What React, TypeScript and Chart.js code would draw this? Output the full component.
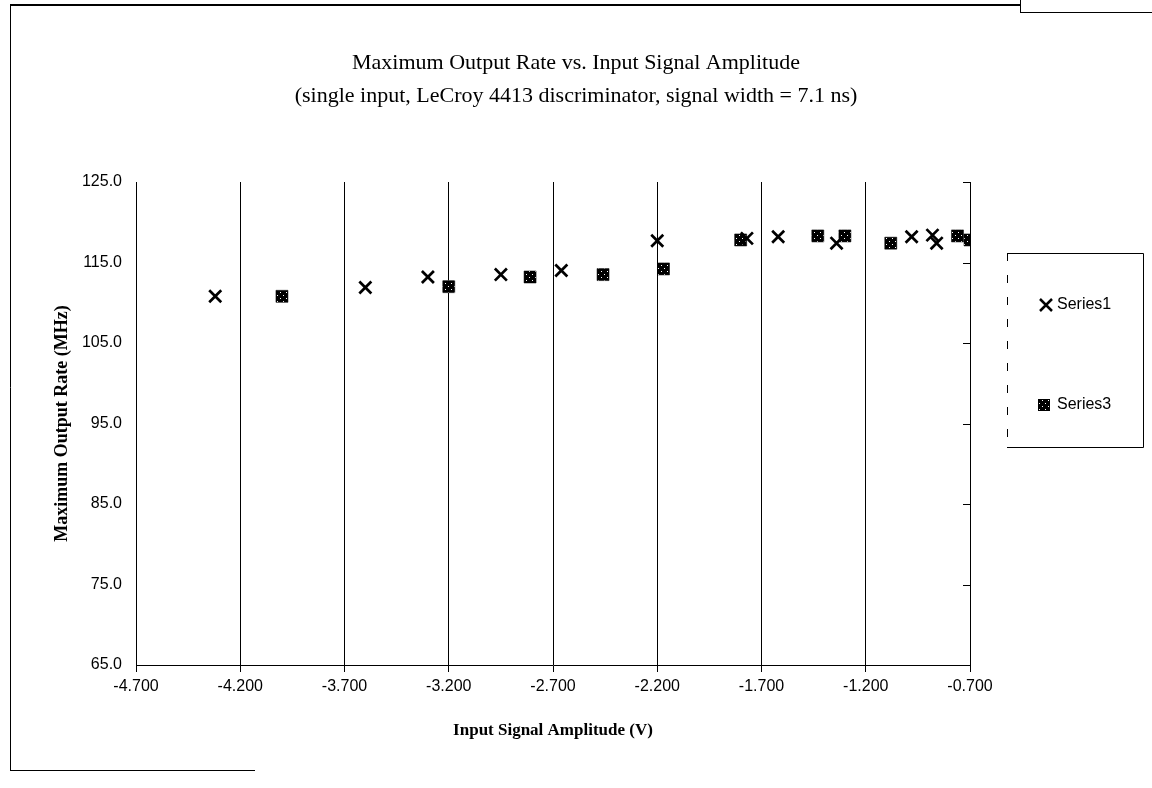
import React, { useEffect, useRef } from 'react';
import { Chart, registerables } from 'chart.js';

Chart.register(...registerables);

const titleLines = [
  'Maximum Output Rate vs. Input Signal Amplitude',
  '(single input, LeCroy 4413 discriminator, signal width = 7.1 ns)',
];
const xAxisTitle = 'Input Signal Amplitude (V)';
const yAxisTitle = 'Maximum Output Rate (MHz)';
const seriesNames = ['Series1', 'Series3'];

const series1X = [-4.32, -3.6, -3.3, -2.95, -2.66, -2.2, -1.77, -1.62, -1.34, -0.98, -0.88, -0.86];
const series1Y = [110.8, 111.9, 113.2, 113.5, 114.0, 117.7, 118.0, 118.2, 117.4, 118.2, 118.4, 117.4];

const series3X = [-4.0, -3.2, -2.81, -2.46, -2.17, -1.8, -1.43, -1.3, -1.08, -0.76, -0.7];
const series3Y = [110.8, 112.0, 113.2, 113.5, 114.2, 117.8, 118.3, 118.3, 117.4, 118.3, 117.8];

const xMin = -4.7;
const xMax = -0.7;
const xStep = 0.5;
const yMin = 65;
const yMax = 125;
const yStep = 10;

export default function App() {
  const ref = useRef<HTMLCanvasElement>(null);

  useEffect(() => {
    document.body.style.margin = '0';
    const canvas = ref.current!;
    const pc = document.createElement('canvas');
    pc.width = 6;
    pc.height = 6;
    const p = pc.getContext('2d')!;
    p.fillStyle = '#000';
    p.fillRect(0, 0, 6, 6);
    p.fillStyle = '#fff';
    p.fillRect(1, 1, 1, 1);
    p.fillRect(4, 4, 1, 1);
    const pattern = canvas.getContext('2d')!.createPattern(pc, 'repeat')!;

    const framePlugin = {
      id: 'frameAndLegend',
      afterDraw(chart: any) {
        const ctx = chart.ctx as CanvasRenderingContext2D;
        const area = chart.chartArea;
        const ys = chart.scales.y;
        ctx.save();
        ctx.strokeStyle = '#000';
        // inward tick marks on right edge
        ctx.lineWidth = 1;
        ctx.beginPath();
        for (const t of ys.ticks) {
          const py = Math.round(ys.getPixelForValue(t.value)) + 0.5;
          ctx.moveTo(area.right - 7, py);
          ctx.lineTo(area.right, py);
        }
        ctx.stroke();

        // outer frame
        ctx.lineWidth = 2;
        ctx.beginPath();
        ctx.moveTo(10, 5);
        ctx.lineTo(1020, 5);
        ctx.stroke();
        ctx.lineWidth = 1;
        ctx.beginPath();
        ctx.moveTo(1020.5, 0);
        ctx.lineTo(1020.5, 12);
        ctx.moveTo(1020, 12.5);
        ctx.lineTo(1152, 12.5);
        ctx.moveTo(10.5, 5);
        ctx.lineTo(10.5, 770);
        ctx.moveTo(10, 770.5);
        ctx.lineTo(255, 770.5);
        ctx.stroke();

        // legend box
        ctx.beginPath();
        ctx.moveTo(1007, 253.5);
        ctx.lineTo(1143.5, 253.5);
        ctx.lineTo(1143.5, 447.5);
        ctx.lineTo(1007, 447.5);
        ctx.stroke();
        ctx.setLineDash([8, 14]);
        ctx.beginPath();
        ctx.moveTo(1007.5, 253);
        ctx.lineTo(1007.5, 447);
        ctx.stroke();
        ctx.setLineDash([]);

        const rows = [305, 405];
        chart.data.datasets.forEach((ds: any, i: number) => {
          const cy = rows[i];
          if (ds.pointStyle === 'crossRot') {
            ctx.lineWidth = 2.5;
            ctx.beginPath();
            ctx.moveTo(1040, cy - 6);
            ctx.lineTo(1052, cy + 6);
            ctx.moveTo(1052, cy - 6);
            ctx.lineTo(1040, cy + 6);
            ctx.stroke();
          } else {
            ctx.fillStyle = pattern;
            ctx.fillRect(1038, cy - 6, 12, 12);
          }
          ctx.fillStyle = '#000';
          ctx.font = '16px "Liberation Sans"';
          ctx.textAlign = 'left';
          ctx.textBaseline = 'middle';
          ctx.fillText(ds.label, 1057, cy);
        });
        ctx.restore();
      },
    };

    const chart = new Chart(canvas, {
      type: 'scatter',
      data: {
        datasets: [
          {
            label: seriesNames[0],
            data: series1X.map((x, i) => ({ x, y: series1Y[i] })),
            pointStyle: 'crossRot',
            pointRadius: 8.5,
            pointBorderWidth: 2.7,
            borderColor: '#000',
            backgroundColor: '#000',
          },
          {
            label: seriesNames[1],
            data: series3X.map((x, i) => ({ x, y: series3Y[i] })),
            pointStyle: 'rect',
            pointRadius: 8.5,
            pointBorderWidth: 0.5,
            borderColor: '#000',
            backgroundColor: pattern as any,
          },
        ],
      },
      plugins: [framePlugin],
      options: {
        animation: false,
        responsive: true,
        maintainAspectRatio: false,
        layout: { padding: { left: 0, right: 0, top: 0, bottom: 43 } },
        plugins: {
          legend: { display: false },
          tooltip: { enabled: false },
          title: {
            display: true,
            text: titleLines,
            color: '#000',
            font: { family: '"Liberation Serif"', size: 22, weight: 'normal', lineHeight: 1.5 },
            padding: { top: 46.5, bottom: 69.5 },
          },
        },
        scales: {
          x: {
            type: 'linear',
            min: xMin,
            max: xMax,
            afterFit: (s: any) => {
              s.height = 80;
            },
            ticks: {
              stepSize: xStep,
              color: '#000',
              padding: 5,
              maxRotation: 0,
              font: { family: '"Liberation Sans"', size: 16 },
              callback: (v: any) => Number(v).toFixed(3),
            },
            grid: { color: '#000', lineWidth: 1, drawTicks: true, tickLength: 7, tickColor: '#000' },
            border: { display: true, color: '#000', width: 1 },
            title: {
              display: true,
              text: xAxisTitle,
              color: '#000',
              font: { family: '"Liberation Serif"', size: 17, weight: 'bold' },
              padding: { top: 0, bottom: 3.8 },
            },
          },
          y: {
            type: 'linear',
            position: 'left',
            min: yMin,
            max: yMax,
            afterFit: (s: any) => {
              s.width = 136;
            },
            ticks: {
              stepSize: yStep,
              color: '#000',
              padding: 6,
              font: { family: '"Liberation Sans"', size: 16 },
              callback: (v: any) => Number(v).toFixed(1),
            },
            grid: { display: false },
            border: { display: true, color: '#000', width: 1 },
            title: {
              display: true,
              text: yAxisTitle,
              color: '#000',
              font: { family: '"Liberation Serif"', size: 18, weight: 'bold' },
              padding: { top: 52, bottom: 0 },
            },
          },
          yRight: {
            type: 'linear',
            position: 'right',
            display: true,
            min: yMin,
            max: yMax,
            afterFit: (s: any) => {
              s.width = 182;
            },
            ticks: { display: false },
            grid: { display: false },
            border: { display: false },
          },
        },
      },
    });
    return () => chart.destroy();
  }, []);

  return (
    <div style={{ width: 1152, height: 788, position: 'relative' }}>
      <canvas ref={ref} />
    </div>
  );
}
